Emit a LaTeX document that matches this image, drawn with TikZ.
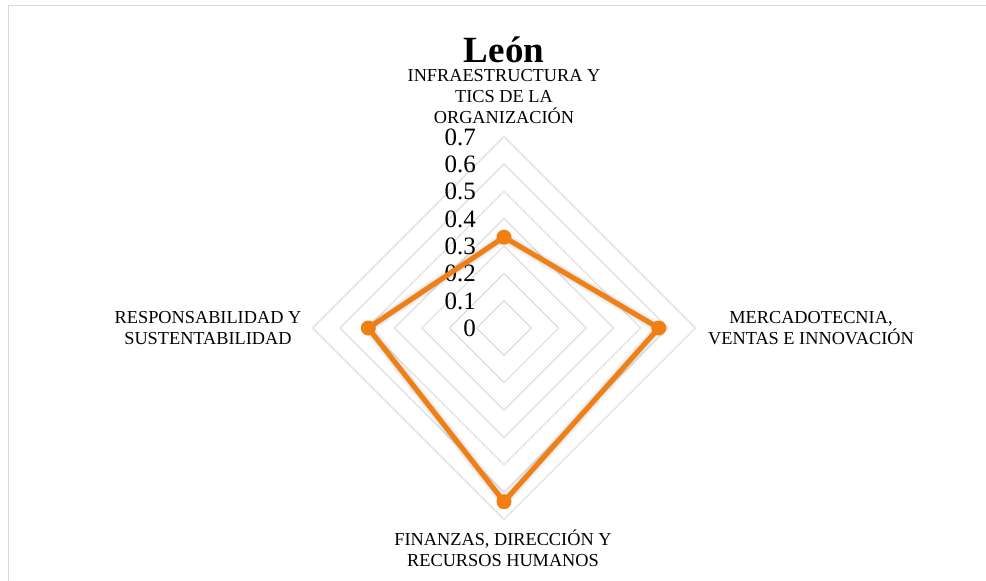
\documentclass[tikz,border=0pt]{standalone}
\usepackage{fontspec}
\setmainfont{Liberation Serif}
\usetikzlibrary{calc}
\definecolor{gridgray}{HTML}{D9D9D9}
\definecolor{serieorange}{RGB}{240,128,20}
\definecolor{shadowgray}{HTML}{404040}
\newcommand{\centerlines}[1]{\vtop{\baselineskip=21pt\halign{\hfil##\hfil\cr#1\crcr}}}
\begin{document}
\begin{tikzpicture}[x=1pt,y=-1pt,
  gridline/.style={draw=gridgray, line width=1pt},
  framestyle/.style={draw=gridgray, line width=1.6pt},
  axlabel/.style={font=\fontsize{18.3}{21}\selectfont, inner sep=0pt, anchor=base},
  ticklbl/.style={font=\fontsize{25}{28}\selectfont, inner sep=0pt, anchor=base east},
  titlestyle/.style={font=\fontsize{37}{40}\selectfont\bfseries, inner sep=0pt, anchor=base},
  seriesline/.style={draw=serieorange, line width=5pt, line join=round},
  shadowline/.style={draw=shadowgray, line join=round},
  markerdot/.style={circle, fill=serieorange, minimum size=15pt, inner sep=0pt}]
\useasboundingbox (0,0) rectangle (986,581);
% frame
\draw[framestyle] (8.5,581) -- (8.5,5.5) -- (986,5.5);
% grid rings
\coordinate (c) at (504,328);
\foreach \v in {1,...,7}{
  \pgfmathsetmacro{\r}{27.35*\v}
  \draw[gridline] ($(c)+(0,-\r)$) -- ($(c)+(\r,0)$) -- ($(c)+(0,\r)$) -- ($(c)+(-\r,0)$) -- cycle;
}
% tick labels
\foreach \v/\t in {0/0,1/0.1,2/0.2,3/0.3,4/0.4,5/0.5,6/0.6,7/0.7}{
  \pgfmathsetmacro{\yy}{328-27.35*\v+8.5}
  \node[ticklbl] (tick\v) at (476,\yy) {\t};
}
% data points
\coordinate (pT) at (504,237.2);
\coordinate (pR) at (658.8,328);
\coordinate (pB) at (504,501.7);
\coordinate (pL) at (368.3,328);
% shadow
\begin{scope}[shift={(1.5,3)}]
  \draw[shadowline, line width=11pt, opacity=0.05] (pT) -- (pR) -- (pB) -- (pL) -- cycle;
  \draw[shadowline, line width=8pt, opacity=0.08] (pT) -- (pR) -- (pB) -- (pL) -- cycle;
  \draw[shadowline, line width=5pt, opacity=0.12] (pT) -- (pR) -- (pB) -- (pL) -- cycle;
\end{scope}
\draw[seriesline] (pT) -- (pR) -- (pB) -- (pL) -- cycle;
\node[markerdot] (mT) at (pT) {};
\node[markerdot] (mR) at (pR) {};
\node[markerdot] (mB) at (pB) {};
\node[markerdot] (mL) at (pL) {};
% title
\node[titlestyle] (title) at (504,62) {León};
% axis labels
\node[axlabel] (labT) at (504,81) {\centerlines{INFRAESTRUCTURA Y\cr TICS DE LA\cr ORGANIZACIÓN}};
\node[axlabel] (labR) at (811,323) {\centerlines{MERCADOTECNIA,\cr VENTAS E INNOVACIÓN}};
\node[axlabel] (labB) at (503,545) {\centerlines{FINANZAS, DIRECCIÓN Y\cr RECURSOS HUMANOS}};
\node[axlabel] (labL) at (208,323) {\centerlines{RESPONSABILIDAD Y\cr SUSTENTABILIDAD}};
\end{tikzpicture}
\end{document}
